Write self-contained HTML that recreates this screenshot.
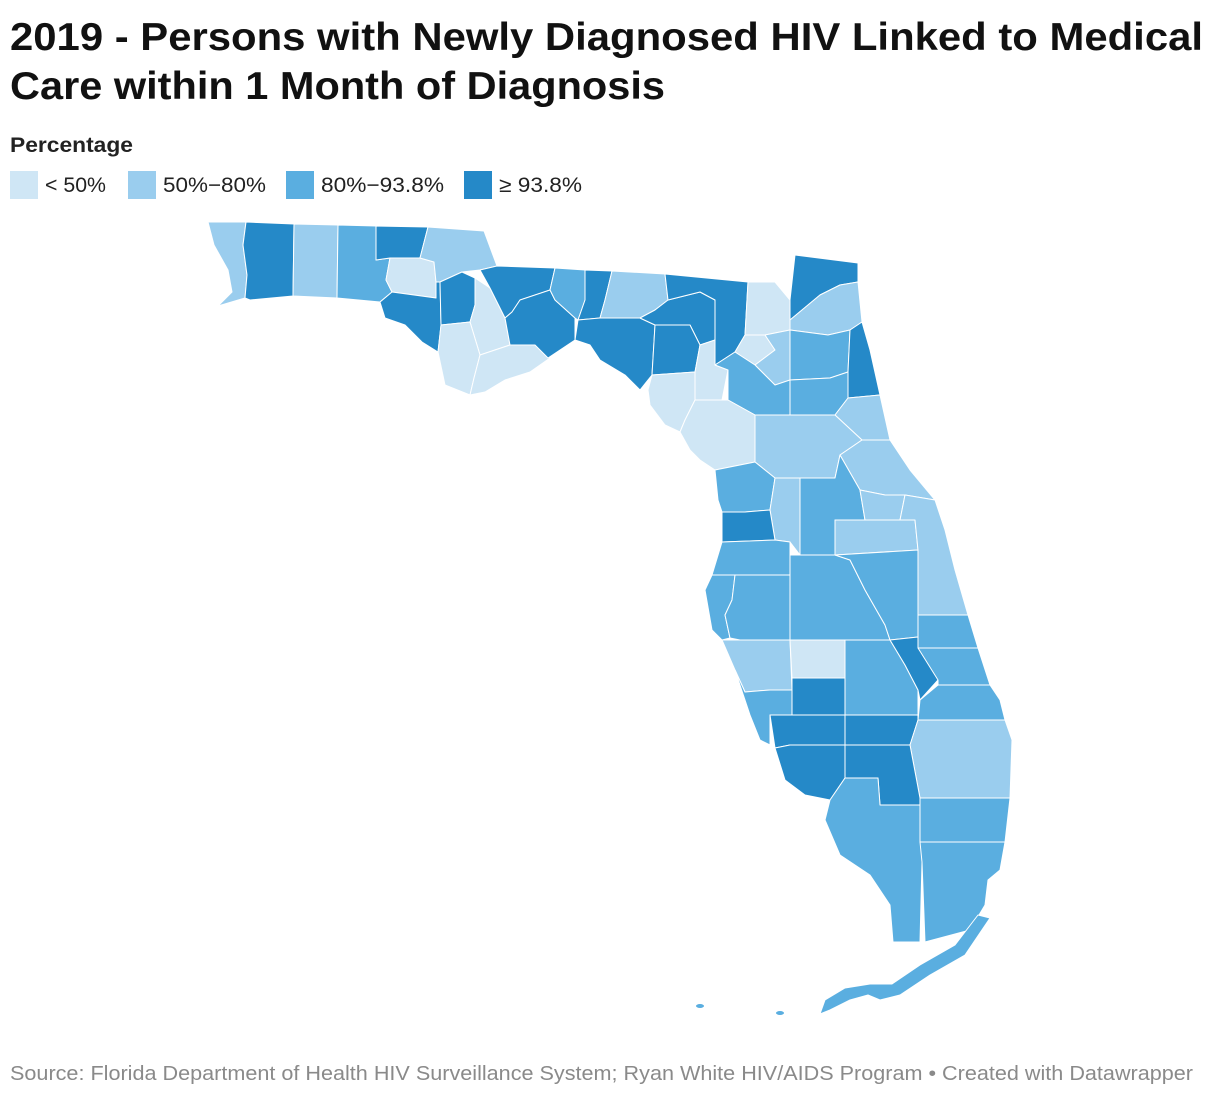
<!DOCTYPE html>
<html><head><meta charset="utf-8"><style>
html,body{margin:0;padding:0;background:#fff;width:1220px;height:1098px;overflow:hidden}
svg{display:block;font-family:"Liberation Sans",sans-serif}
</style></head><body>
<svg id="chart" width="1220" height="1098" viewBox="0 0 1220 1098">
<text x="10" y="50" font-size="39" font-weight="bold" fill="#111" textLength="1193" lengthAdjust="spacingAndGlyphs">2019 - Persons with Newly Diagnosed HIV Linked to Medical</text>
<text x="10" y="99" font-size="39" font-weight="bold" fill="#111" textLength="655" lengthAdjust="spacingAndGlyphs">Care within 1 Month of Diagnosis</text>
<text x="10" y="152" font-size="21" font-weight="bold" fill="#222" textLength="123" lengthAdjust="spacingAndGlyphs">Percentage</text>
<g id="legend"></g>
<g id="map"></g>
<text x="10" y="1080" font-size="20" fill="#8a8a8a" textLength="1183" lengthAdjust="spacingAndGlyphs">Source: Florida Department of Health HIV Surveillance System; Ryan White HIV/AIDS Program • Created with Datawrapper</text>
</svg>
<script>
const binLabels = ["< 50%", "50%\u221280%", "80%\u221293.8%", "\u2265 93.8%"];
const binThresholds = [50, 80, 93.8];
const binColors = ["#cfe6f5", "#9acdee", "#5aaee0", "#2589c8"];
const countyNames = ["Escambia","Santa Rosa","Okaloosa","Walton","Holmes","Washington","Jackson","Bay","Calhoun","Liberty","Gulf","Franklin","Gadsden","Leon-Wakulla","Jefferson","Madison","Taylor","Hamilton","Suwannee","Columbia","Lafayette","Baker","Nassau","Duval","Union","Bradford","Clay","St. Johns","Gilchrist","Dixie","Alachua","Putnam","Levy","Flagler","Marion","Volusia","Lake","Citrus","Sumter","Hernando","Seminole","Orange","Brevard","Pasco","Pinellas","Hillsborough","Polk","Osceola","Indian River","Manatee","Hardee","Highlands","Okeechobee","St. Lucie","Martin","Sarasota","DeSoto","Charlotte","Glades","Palm Beach","Lee","Hendry","Collier","Broward","Miami-Dade","Monroe"];
const countyValues = [70,97,70,88,97,40,70,97,97,40,40,40,97,97,88,97,97,70,97,97,97,40,97,70,40,70,88,97,40,40,88,88,40,70,70,70,88,88,70,97,70,70,70,88,88,88,88,88,88,70,40,88,97,88,88,88,97,97,97,70,97,97,88,88,88,88];
const countyShapes = [
"208,222 246,222 243,245 247,275 245,298 218,306 232,292 228,270 214,245",
"246,222 294,224 293,296 250,300 245,298 247,275 243,245",
"294,224 338,225 337,298 293,296",
"338,225 376,226 376,260 390,258 386,280 392,292 380,302 337,298",
"376,226 428,227 420,258 390,258 376,260",
"390,258 420,258 434,262 436,282 436,298 392,292 386,280",
"428,227 484,231 497,266 480,270 462,272 440,282 436,282 434,262 420,258",
"380,302 392,292 436,298 436,282 440,282 441,325 438,352 422,342 405,325 385,318",
"440,282 462,272 475,278 475,305 470,322 441,325",
"475,278 490,288 505,318 510,345 480,355 470,322 475,305",
"441,325 470,322 480,355 474,378 470,395 445,385 438,352",
"480,355 510,345 535,345 550,358 530,372 505,380 485,392 470,395 474,378",
"480,270 497,266 555,268 550,290 535,295 520,300 512,312 505,318 490,288",
"512,312 520,300 535,295 550,290 555,300 575,318 575,340 560,350 548,358 535,345 510,345 505,318",
"555,268 585,270 585,300 578,320 575,318 555,300 550,290",
"585,270 612,271 605,300 600,318 578,320 585,300",
"578,320 600,318 640,318 655,325 652,375 640,390 625,375 600,360 590,345 575,340",
"612,271 665,274 668,300 655,310 640,318 600,318 605,300",
"640,318 655,310 668,300 700,292 715,300 715,340 700,345 690,325 655,325",
"665,274 748,282 745,335 735,352 715,365 715,300 700,292 668,300",
"655,325 690,325 700,345 695,372 652,375",
"748,282 775,282 790,300 790,330 765,335 745,335",
"795,255 858,263 858,282 840,285 820,295 790,320 790,300",
"790,320 820,295 840,285 858,282 862,322 850,330 828,335 790,330",
"745,335 765,335 775,350 755,365 735,352",
"765,335 790,330 790,380 775,385 755,365 775,350",
"790,330 828,335 850,330 848,372 830,378 790,380",
"850,330 862,322 870,350 880,395 848,398 848,372",
"695,372 700,345 715,340 715,365 728,370 722,400 695,400",
"652,375 695,372 695,400 685,420 680,432 665,425 650,405 648,390",
"715,365 735,352 755,365 775,385 790,380 790,415 755,415 728,400 728,370",
"790,380 830,378 848,372 848,398 835,415 790,415",
"685,420 695,400 722,400 728,400 755,415 755,462 715,470 700,460 690,450 680,432",
"848,398 880,395 890,440 862,440 835,415",
"755,415 835,415 862,440 840,455 835,478 800,478 775,478 755,462",
"862,440 890,440 910,470 935,500 905,495 885,495 860,490 840,455",
"800,478 835,478 840,455 860,490 865,520 835,520 835,555 800,555",
"715,470 755,462 775,478 770,510 745,512 722,512 718,500",
"775,478 800,478 800,555 790,542 775,540 770,510",
"722,512 745,512 770,510 775,540 722,542",
"860,490 885,495 905,495 900,520 865,520",
"835,520 865,520 900,520 915,520 918,550 835,555",
"905,495 935,500 945,530 955,570 968,615 918,615 918,550 915,520 900,520",
"722,542 775,540 790,542 790,575 712,575",
"712,575 735,575 732,600 725,615 730,638 722,640 712,630 705,590",
"735,575 790,575 790,640 740,640 730,638 725,615 732,600",
"790,555 835,555 850,560 865,590 885,625 890,640 790,640 790,575",
"835,555 918,550 918,615 918,637 890,640 885,625 865,590 850,560",
"918,615 968,615 978,648 918,648",
"722,640 790,640 792,690 770,690 745,692 735,670",
"790,640 845,640 845,678 792,678",
"845,640 890,640 905,665 918,690 918,715 875,715 845,715 845,678",
"890,640 918,637 918,648 940,648 938,680 920,700 918,690 905,665",
"918,648 978,648 990,685 938,685 938,680",
"938,685 990,685 1000,700 1005,720 918,720 920,700",
"735,670 745,692 770,690 792,690 792,715 770,715 770,745 760,740 750,715",
"792,678 845,678 845,715 792,715",
"770,715 845,715 845,745 790,745 775,748",
"845,715 875,715 918,715 918,720 910,745 845,745",
"918,720 1005,720 1012,740 1010,798 920,798 910,745",
"775,748 790,745 845,745 845,778 830,800 805,795 785,780",
"845,745 910,745 920,798 920,805 880,805 878,778 845,778",
"830,800 845,778 878,778 880,805 920,805 922,862 920,942 893,942 890,905 870,875 840,855 825,820",
"920,798 1010,798 1005,842 920,842",
"920,842 1005,842 1000,870 988,880 985,905 970,930 925,942 922,862",
"978,915 990,918 965,955 930,975 900,995 880,1000 868,995 850,1000 830,1010 820,1014 825,1000 845,988 870,984 892,984 920,965 955,945"
];
function binIndex(v){let i=0;while(i<binThresholds.length&&v>=binThresholds[i])i++;return i;}
const NS="http://www.w3.org/2000/svg";
const leg=document.getElementById('legend');
const swX=[10,128,286,464];
const labW=[61,103,123,83];
binLabels.forEach((lab,i)=>{
  const r=document.createElementNS(NS,'rect');
  r.setAttribute('x',swX[i]);r.setAttribute('y',171);r.setAttribute('width',28);r.setAttribute('height',28);r.setAttribute('fill',binColors[i]);
  
  
  leg.appendChild(r);
  const t=document.createElementNS(NS,'text');
  t.setAttribute('x',swX[i]+35);t.setAttribute('y',192);t.setAttribute('font-size','21');t.setAttribute('fill','#222');
  t.setAttribute('textLength',labW[i]);t.setAttribute('lengthAdjust','spacingAndGlyphs');
  t.textContent=lab;
  
  
  leg.appendChild(t);
});
const map=document.getElementById('map');
countyShapes.forEach((pts,i)=>{
  const p=document.createElementNS(NS,'polygon');
  p.setAttribute('points',pts);
  p.setAttribute('fill',binColors[binIndex(countyValues[i])]);
  p.setAttribute('stroke','#fff');p.setAttribute('stroke-width','1');p.setAttribute('stroke-linejoin','round');
  
  
  map.appendChild(p);
});
const keyDots=[[700,1006],[780,1013]];
keyDots.forEach(d=>{
  const e=document.createElementNS(NS,'ellipse');
  e.setAttribute('cx',d[0]);e.setAttribute('cy',d[1]);e.setAttribute('rx',4);e.setAttribute('ry',2);
  e.setAttribute('fill',binColors[binIndex(countyValues[countyValues.length-1])]);
  
  
  map.appendChild(e);
});
</script>
</body></html>
